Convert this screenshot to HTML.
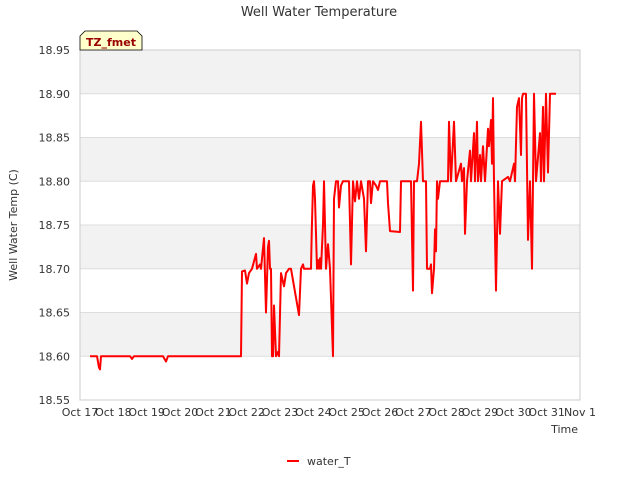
<!DOCTYPE html>
<html><head><meta charset="utf-8"><style>
body{margin:0;background:#fff;font-family:"Liberation Sans","DejaVu Sans",sans-serif}
svg text{font-family:"DejaVu Sans","Liberation Sans",sans-serif}
</style></head><body>
<svg id="chart" width="640" height="480" viewBox="0 0 640 480" xmlns="http://www.w3.org/2000/svg">
<text x="319" y="16" text-anchor="middle" font-size="13" fill="#333">Well Water Temperature</text>
<g id="bands"></g><g id="grid"></g>
<rect x="80" y="50" width="500" height="350" fill="none" stroke="#ccc"/>
<g id="yticks"></g><g id="xticks"></g>
<path id="series" fill="none" stroke="#ff0000" stroke-width="2" stroke-linejoin="round"/>
<text transform="translate(17,225) rotate(-90)" text-anchor="middle" font-size="11" fill="#333">Well Water Temp (C)</text>
<text x="578" y="433" text-anchor="end" font-size="11" fill="#333">Time</text>
<g>
<path d="M80,50 L80,36 L85,31 L137,31 L142,36 L142,50 Z" fill="#ffffcc" stroke="#000" stroke-width="0.8"/>
<text x="111" y="46" text-anchor="middle" font-size="11" font-weight="bold" fill="#990000">TZ_fmet</text>
</g>
<g>
<line x1="287" y1="461" x2="299" y2="461" stroke="#ff0000" stroke-width="2"/>
<text x="307" y="465" font-size="11" fill="#333">water_T</text>
</g>
</svg>
<script>
const days=[0.3,0.51,0.57,0.6,0.63,1.5,1.56,1.62,2.49,2.58,2.64,4.83,4.86,4.95,5.01,5.07,5.16,5.28,5.31,5.4,5.43,5.52,5.58,5.64,5.67,5.7,5.73,5.76,5.79,5.82,5.88,5.94,5.97,6.03,6.12,6.18,6.27,6.33,6.57,6.63,6.69,6.72,6.93,6.95,6.99,7.02,7.05,7.11,7.14,7.17,7.2,7.23,7.29,7.32,7.38,7.44,7.5,7.59,7.62,7.68,7.74,7.77,7.83,7.89,8.07,8.13,8.19,8.25,8.31,8.37,8.43,8.52,8.58,8.64,8.7,8.73,8.79,8.88,8.94,9.0,9.21,9.24,9.3,9.6,9.63,9.93,9.99,10.02,10.11,10.17,10.23,10.29,10.38,10.41,10.5,10.53,10.56,10.62,10.65,10.68,10.71,10.74,10.8,11.04,11.07,11.13,11.22,11.28,11.43,11.46,11.52,11.55,11.61,11.7,11.73,11.82,11.85,11.91,11.94,12.0,12.03,12.09,12.15,12.24,12.27,12.33,12.36,12.39,12.42,12.48,12.54,12.6,12.66,12.84,12.9,13.02,13.05,13.11,13.17,13.23,13.26,13.29,13.38,13.44,13.5,13.56,13.62,13.68,13.8,13.83,13.89,13.92,13.98,14.04,14.1,14.28];
const temps=[18.60,18.60,18.587,18.585,18.60,18.60,18.597,18.60,18.60,18.594,18.60,18.60,18.697,18.698,18.683,18.695,18.70,18.717,18.70,18.705,18.70,18.735,18.65,18.725,18.732,18.70,18.70,18.60,18.60,18.658,18.60,18.605,18.60,18.695,18.68,18.695,18.70,18.70,18.647,18.70,18.705,18.70,18.70,18.74,18.795,18.80,18.78,18.70,18.71,18.70,18.712,18.70,18.75,18.80,18.70,18.728,18.70,18.60,18.78,18.80,18.80,18.77,18.795,18.80,18.80,18.705,18.80,18.777,18.80,18.78,18.80,18.78,18.72,18.80,18.80,18.775,18.80,18.795,18.79,18.80,18.80,18.775,18.743,18.742,18.80,18.80,18.675,18.80,18.80,18.82,18.868,18.80,18.80,18.70,18.70,18.705,18.672,18.70,18.745,18.72,18.80,18.78,18.80,18.80,18.868,18.80,18.868,18.80,18.82,18.80,18.815,18.74,18.80,18.835,18.80,18.855,18.80,18.868,18.80,18.83,18.80,18.84,18.80,18.86,18.84,18.87,18.82,18.895,18.80,18.675,18.80,18.74,18.80,18.805,18.80,18.82,18.80,18.885,18.895,18.83,18.895,18.90,18.90,18.733,18.80,18.70,18.90,18.80,18.855,18.80,18.885,18.80,18.90,18.81,18.90,18.90];
const yTicks=[18.55,18.60,18.65,18.70,18.75,18.80,18.85,18.90,18.95];
const xTickLabels=["Oct 17","Oct 18","Oct 19","Oct 20","Oct 21","Oct 22","Oct 23","Oct 24","Oct 25","Oct 26","Oct 27","Oct 28","Oct 29","Oct 30","Oct 31","Nov 1"];
const X0=80,X1=580,Y0=400,Y1=50,dMin=0,dMax=15,vMin=18.55,vMax=18.95;
const xs=d=>X0+(d-dMin)/(dMax-dMin)*(X1-X0);
const ys=v=>Y0-(v-vMin)/(vMax-vMin)*(Y0-Y1);
const NS="http://www.w3.org/2000/svg";
function mk(tag,attrs,parent){const e=document.createElementNS(NS,tag);for(const k in attrs)e.setAttribute(k,attrs[k]);document.getElementById(parent).appendChild(e);return e;}
for(let i=0;i<yTicks.length-1;i++){
 if(i%2===1){const r=mk('rect',{x:X0,y:ys(yTicks[i+1]),width:X1-X0,height:ys(yTicks[i])-ys(yTicks[i+1]),fill:'#f2f2f2'},'bands');
 
 }
}
yTicks.forEach(v=>{
 const l=mk('line',{x1:X0,x2:X1,y1:ys(v),y2:ys(v),stroke:'#dddddd'},'grid');
 
 
 const t=mk('text',{x:X0-10,y:ys(v)+4,'text-anchor':'end','font-size':'11',fill:'#333'},'yticks');
 
 
 t.textContent=v.toFixed(2);
});
xTickLabels.forEach((s,i)=>{
 const t=mk('text',{x:xs(i),y:416,'text-anchor':'middle','font-size':'11',fill:'#333'},'xticks');
 
 
 t.textContent=s;
});
document.getElementById('series').setAttribute('d',days.map((d,i)=>(i?'L':'M')+xs(d).toFixed(1)+','+ys(temps[i]).toFixed(1)).join(' '));
</script>
</body></html>
